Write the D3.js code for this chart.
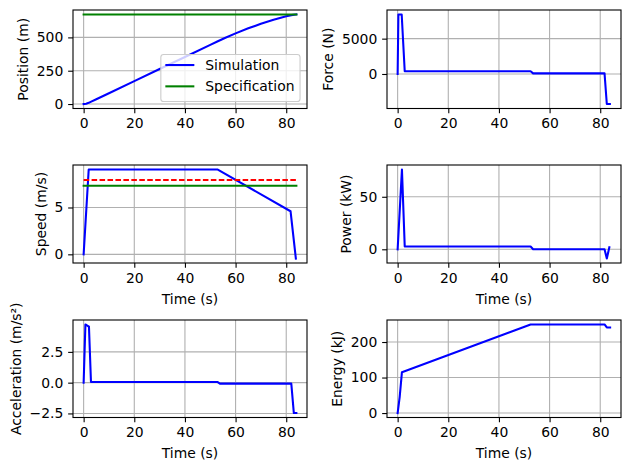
<!DOCTYPE html>
<html>
<head>
<meta charset="utf-8">
<script src="https://cdn.jsdelivr.net/npm/d3@7"></script>
<style>
  html, body { margin: 0; padding: 0; background: #fff; }
  svg { display: block; font-family: "DejaVu Sans", sans-serif; }
</style>
</head>
<body>
<div id="chart"></div>
<script>
// ---------------- data ----------------
const timeTicks = [0, 20, 40, 60, 80];

const positionTime = [0, 1, 2, 3, 5, 10, 20, 30, 40, 50, 53, 56, 60, 65, 70, 75, 80, 82, 84];
const positionSim  = [0, 2, 9, 18, 36, 81, 172, 263, 353, 444, 471, 497, 530, 568, 602, 632, 658, 667, 672];
const positionSpecTime = [0, 84];
const positionSpec     = [672, 672];
const positionTicks = [0, 250, 500];

const forceTime = [0, 0.3, 1.6, 2.8, 52.5, 53.5, 81.7, 82.6, 83.8];
const forceSim  = [0, 8420, 8420, 380, 380, 90, 90, -4250, -4250];
const forceTicks = [0, 5000];

const speedTime = [0, 2, 52.8, 81.7, 83.8];
const speedSim  = [0, 9.06, 9.06, 4.6, -0.45];
const speedSpecTime = [0, 84];
const speedSpec     = [7.32, 7.32];
const speedAvg      = [7.93, 7.93];
const speedTicks = [0, 5];

const powerTime = [0, 1.7, 2.8, 52.5, 53.5, 81.7, 82.6, 83.6];
const powerSim  = [0, 76, 2.6, 2.6, 0, 0, -8.8, 2];
const powerTicks = [0, 50];

const accelTime = [0, 0.7, 1.6, 2.1, 2.9, 52.8, 53.8, 82, 83, 84];
const accelSim  = [0, 4.73, 4.62, 4.55, 0.06, 0.06, -0.08, -0.08, -2.47, -2.47];
const accelTicks = [-2.5, 0, 2.5];

const energyTime = [0, 0.8, 1.7, 52.5, 81.7, 82.6, 83.9];
const energySim  = [0, 45, 115, 249.5, 249.5, 241, 241];
const energyTicks = [0, 100, 200];

const legendLabels = ["Simulation", "Specification"];

// ---------------- styling ----------------
const W = 629, H = 470;
const FS = 13.9;
const BLUE = "#0000ff", GREEN = "#008000", RED = "#ff0000";
const LW = 2.08, THIN = 1.1, TICK = 4.86;
const cols = [[73, 307], [387, 621]];
const rows = [[10, 108.5], [165, 263], [320, 417.5]];

const svg = d3.select("#chart").append("svg").attr("width", W).attr("height", H);

const tAll = [].concat(positionTime, positionSpecTime, forceTime, speedTime, speedSpecTime, powerTime, accelTime, energyTime);
const tExt = d3.extent(tAll);

function padded(ext) {
  const m = (ext[1] - ext[0]) * 0.05;
  return [ext[0] - m, ext[1] + m];
}

function panel(opt) {
  const [x0, x1] = cols[opt.col], [y0, y1] = rows[opt.row];
  const x = d3.scaleLinear().domain(padded(tExt)).range([x0, x1]);
  const allY = [].concat(...opt.series.map(s => s.y));
  const y = d3.scaleLinear().domain(padded(d3.extent(allY))).range([y1, y0]);
  const g = svg.append("g");

  // grid
  const grid = g.append("g");
  grid.selectAll("line.gx").data(timeTicks).join("line")
    .attr("x1", d => x(d)).attr("x2", d => x(d)).attr("y1", y0).attr("y2", y1)
    .attr("stroke", "#b0b0b0").attr("stroke-width", THIN);
  grid.selectAll("line.gy").data(opt.yTicks).join("line")
    .attr("y1", d => y(d)).attr("y2", d => y(d)).attr("x1", x0).attr("x2", x1)
    .attr("stroke", "#b0b0b0").attr("stroke-width", THIN);

  // series
  const clipId = "clip" + opt.col + opt.row;
  svg.append("clipPath").attr("id", clipId).append("rect")
    .attr("x", x0).attr("y", y0).attr("width", x1 - x0).attr("height", y1 - y0);
  opt.series.forEach(s => {
    const pts = s.t.map((t, i) => [t, s.y[i]]);
    const line = d3.line().x(d => x(d[0])).y(d => y(d[1]));
    g.append("path").datum(pts)
      .attr("d", line)
      .attr("fill", "none")
      .attr("stroke", s.color)
      .attr("stroke-width", LW)
      .attr("stroke-linejoin", "round")
      .attr("stroke-linecap", s.dash ? "butt" : "square")
      .attr("stroke-dasharray", s.dash || null)
      .attr("clip-path", "url(#" + clipId + ")");
  });

  // axes
  const ax = g.append("g").attr("transform", `translate(0,${y1})`)
    .call(d3.axisBottom(x).tickValues(timeTicks).tickFormat(d3.format("d"))
      .tickSize(TICK).tickSizeOuter(0).tickPadding(TICK));
  const ay = g.append("g").attr("transform", `translate(${x0},0)`)
    .call(d3.axisLeft(y).tickValues(opt.yTicks).tickFormat(opt.fmt)
      .tickSize(TICK).tickSizeOuter(0).tickPadding(TICK));
  [ax, ay].forEach(a => {
    a.select(".domain").remove();
    a.selectAll(".tick line").attr("stroke", "#000").attr("stroke-width", THIN);
    a.selectAll(".tick text").attr("fill", "#000").style("font-size", FS + "px")
      .style("font-family", "DejaVu Sans");
  });

  // spines
  g.append("rect").attr("x", x0).attr("y", y0).attr("width", x1 - x0).attr("height", y1 - y0)
    .attr("fill", "none").attr("stroke", "#000").attr("stroke-width", THIN);

  // y label
  const bb = ay.node().getBBox();
  const bx = bb.x + x0 - 5.56 - 3.3;
  g.append("text")
    .attr("transform", `translate(${bx},${(y0 + y1) / 2}) rotate(-90)`)
    .attr("text-anchor", "middle")
    .style("font-size", FS + "px")
    .text(opt.ylabel);

  if (opt.xlabel) {
    g.append("text")
      .attr("x", (x0 + x1) / 2).attr("y", y1 + 40.5)
      .attr("text-anchor", "middle")
      .style("font-size", FS + "px")
      .text(opt.xlabel);
  }
  return {x, y, x0, x1, y0, y1, g};
}

const fmtInt = d3.format("d");
const fmt1 = d3.format(".1f");

const pPos = panel({col: 0, row: 0, ylabel: "Position (m)", yTicks: positionTicks, fmt: fmtInt,
  series: [
    {t: positionTime, y: positionSim, color: BLUE},
    {t: positionSpecTime, y: positionSpec, color: GREEN}
  ]});
panel({col: 1, row: 0, ylabel: "Force (N)", yTicks: forceTicks, fmt: fmtInt,
  series: [{t: forceTime, y: forceSim, color: BLUE}]});
panel({col: 0, row: 1, ylabel: "Speed (m/s)", xlabel: "Time (s)", yTicks: speedTicks, fmt: fmtInt,
  series: [
    {t: speedTime, y: speedSim, color: BLUE},
    {t: speedSpecTime, y: speedAvg, color: RED, dash: "5.55,2.4"},
    {t: speedSpecTime, y: speedSpec, color: GREEN}
  ]});
panel({col: 1, row: 1, ylabel: "Power (kW)", xlabel: "Time (s)", yTicks: powerTicks, fmt: fmtInt,
  series: [{t: powerTime, y: powerSim, color: BLUE}]});
panel({col: 0, row: 2, ylabel: "Acceleration (m/s²)", xlabel: "Time (s)", yTicks: accelTicks, fmt: fmt1,
  series: [{t: accelTime, y: accelSim, color: BLUE}]});
panel({col: 1, row: 2, ylabel: "Energy (kJ)", xlabel: "Time (s)", yTicks: energyTicks, fmt: fmtInt,
  series: [{t: energyTime, y: energySim, color: BLUE}]});

// legend (lower right of the position panel)
(function () {
  const colors = [BLUE, GREEN];
  const lg = svg.append("g");
  const right = pPos.x1 - 6.95, bottom = pPos.y1 - 6.95;
  const tmp = lg.append("g");
  const texts = tmp.selectAll("text").data(legendLabels).join("text")
    .style("font-size", FS + "px").text(d => d);
  const tw = d3.max(texts.nodes(), n => n.getComputedTextLength());
  tmp.remove();
  const w = 5.56 + 27.8 + 11.1 + tw + 5.56;
  const h = 47;
  const left = right - w, top = bottom - h;
  lg.append("rect").attr("x", left).attr("y", top).attr("width", w).attr("height", h)
    .attr("rx", 2.8).attr("ry", 2.8)
    .attr("fill", "#fff").attr("fill-opacity", 0.8)
    .attr("stroke", "#cccccc").attr("stroke-width", THIN);
  const rowY = [10.5, 31.8];
  legendLabels.forEach((lab, i) => {
    const cy = top + rowY[i];
    lg.append("line").attr("x1", left + 4.5).attr("x2", left + 4.5 + 29)
      .attr("y1", cy).attr("y2", cy)
      .attr("stroke", colors[i]).attr("stroke-width", LW);
    lg.append("text").attr("x", left + 5.56 + 27.8 + 11.1).attr("y", cy)
      .attr("dy", "0.36em")
      .style("font-size", FS + "px").text(lab);
  });
})();
</script>
</body>
</html>
